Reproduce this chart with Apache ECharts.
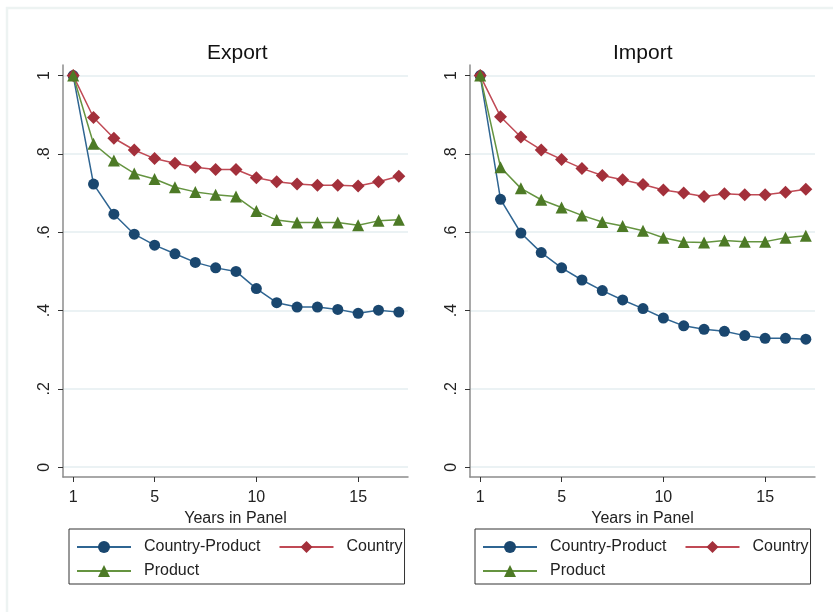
<!DOCTYPE html>
<html>
<head>
<meta charset="utf-8">
<script src="https://cdn.jsdelivr.net/npm/echarts@6/dist/echarts.min.js"></script>
<style>
html, body { margin: 0; padding: 0; background: #ffffff; }
#chart { width: 833px; height: 612px; }
</style>
</head>
<body>
<div id="chart"></div>
<script>
// Years in panel (x values)
const years = [1, 2, 3, 4, 5, 6, 7, 8, 9, 10, 11, 12, 13, 14, 15, 16, 17];

// Export survival shares
const exportCountryProduct = [1.000, 0.723, 0.646, 0.595, 0.567, 0.545, 0.523, 0.509, 0.500, 0.456, 0.420, 0.409, 0.409, 0.403, 0.393, 0.401, 0.396];
const exportCountry        = [1.000, 0.893, 0.840, 0.810, 0.788, 0.776, 0.766, 0.760, 0.760, 0.739, 0.729, 0.723, 0.720, 0.720, 0.718, 0.729, 0.743];
const exportProduct        = [1.000, 0.826, 0.783, 0.750, 0.736, 0.715, 0.703, 0.696, 0.691, 0.654, 0.631, 0.625, 0.625, 0.625, 0.618, 0.629, 0.632];

// Import survival shares
const importCountryProduct = [1.000, 0.684, 0.598, 0.548, 0.509, 0.478, 0.451, 0.427, 0.405, 0.381, 0.361, 0.352, 0.347, 0.336, 0.329, 0.329, 0.327];
const importCountry        = [1.000, 0.895, 0.843, 0.810, 0.786, 0.763, 0.745, 0.734, 0.722, 0.708, 0.700, 0.691, 0.698, 0.696, 0.696, 0.702, 0.710];
const importProduct        = [1.000, 0.766, 0.712, 0.683, 0.663, 0.643, 0.626, 0.616, 0.604, 0.586, 0.575, 0.574, 0.579, 0.576, 0.576, 0.586, 0.591];

// Axis ticks
const xTicks = [1, 5, 10, 15];
const yTicks = [0, 0.2, 0.4, 0.6, 0.8, 1];

const panelTitles = ['Export', 'Import'];
const seriesNames = ['Country-Product', 'Country', 'Product'];

const FONT = '"Liberation Sans", Arial, sans-serif';
const AXIS_COLOR = '#8c8c8c';

const styles = {
  'Country-Product': { symbol: 'circle',   size: 11, marker: '#1a476f', line: '#2f6592' },
  'Country':         { symbol: 'diamond',  size: 13, marker: '#a3303b', line: '#c04a55' },
  'Product':         { symbol: 'triangle', size: 12, marker: '#4d7a26', line: '#659440' }
};

const pairs = vals => years.map((y, i) => [y, vals[i]]);
const panelData = [
  [exportCountryProduct, exportCountry, exportProduct],
  [importCountryProduct, importCountry, importProduct]
];

const gridLefts = [63, 470];
const gridWidth = 345;

const yLabel = v => v === 0 ? '0' : v === 1 ? '1' : String(+v.toFixed(1)).replace(/^0/, '');

const option = {
  backgroundColor: '#ffffff',
  animation: false,
  textStyle: { fontFamily: FONT },
  title: panelTitles.map((t, i) => ({
    text: t,
    left: i === 0 ? 207 : 613,
    top: 43,
    padding: 0,
    textStyle: { fontFamily: FONT, fontSize: 21, fontWeight: 'normal', color: '#111' }
  })),
  graphic: [{
    type: 'rect',
    silent: true,
    shape: { x: 7, y: 8, width: 840, height: 620 },
    style: { fill: 'none', stroke: '#edf3f2', lineWidth: 2.5 }
  }],
  grid: gridLefts.map(l => ({ left: l, top: 65, width: gridWidth, height: 412, containLabel: false })),
  xAxis: gridLefts.map((l, i) => ({
    type: 'value',
    gridIndex: i,
    min: 0.5,
    max: 17.45,
    name: 'Years in Panel',
    nameLocation: 'middle',
    nameGap: 23,
    nameTextStyle: { fontFamily: FONT, fontSize: 16, color: '#222' },
    axisLine: { show: true, onZero: false, lineStyle: { color: AXIS_COLOR, width: 1.5 } },
    axisTick: { show: true, length: 5, customValues: xTicks, lineStyle: { color: '#333', width: 1 } },
    axisLabel: { customValues: xTicks, margin: 13, fontFamily: FONT, fontSize: 16, color: '#222' },
    splitLine: { show: false }
  })),
  yAxis: gridLefts.map((l, i) => ({
    type: 'value',
    gridIndex: i,
    min: -0.025,
    max: 1.027,
    axisLine: { show: true, onZero: false, lineStyle: { color: AXIS_COLOR, width: 1.5 } },
    axisTick: { show: true, length: 5, customValues: yTicks, lineStyle: { color: '#333', width: 1 } },
    axisLabel: {
      customValues: yTicks,
      rotate: 90,
      margin: 10,
      fontFamily: FONT,
      fontSize: 16,
      color: '#222',
      formatter: yLabel
    },
    splitLine: { show: true, lineStyle: { color: '#e4eef0', width: 1.5 } }
  })),
  legend: gridLefts.map((l, i) => ({
    orient: 'horizontal',
    left: i === 0 ? 69 : 475,
    top: 529,
    width: 330,
    padding: [6, 2, 1, 7],
    itemGap: 0,
    itemWidth: 54,
    itemHeight: 15,
    borderColor: '#333',
    borderWidth: 1,
    selectedMode: false,
    textStyle: { fontFamily: FONT, fontSize: 16, color: '#222', lineHeight: 24, padding: [0, 0, 0, 8] },
    data: [
      { name: 'Country-Product', textStyle: { padding: [0, 18, 0, 8] } },
      { name: 'Country' },
      { name: 'Product' }
    ]
  })),
  series: []
};

panelData.forEach((set, p) => {
  set.forEach((vals, k) => {
    const name = seriesNames[k];
    const st = styles[name];
    option.series.push({
      type: 'line',
      name: name,
      xAxisIndex: p,
      yAxisIndex: p,
      data: pairs(vals),
      symbol: st.symbol,
      symbolSize: st.size,
      showAllSymbol: true,
      lineStyle: { color: st.line, width: 1.5 },
      itemStyle: { color: st.marker, borderWidth: 0 },
      emphasis: { disabled: true }
    });
  });
});

const chart = echarts.init(document.getElementById('chart'), null, { renderer: 'canvas' });
chart.setOption(option);
</script>
</body>
</html>
